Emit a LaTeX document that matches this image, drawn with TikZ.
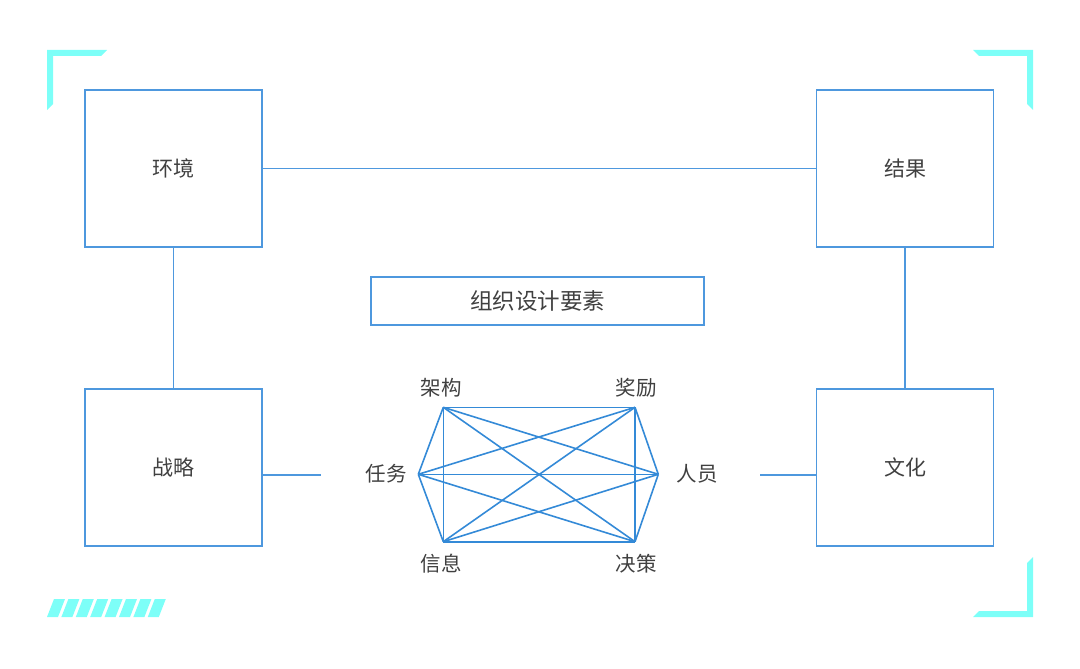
\documentclass[tikz,border=0pt]{standalone}
\usepackage{fontspec}
\setmainfont{Noto Sans CJK SC}
\definecolor{lineblue}{RGB}{78,152,222}
\definecolor{hexblue}{RGB}{52,138,215}
\definecolor{cyanb}{RGB}{125,255,248}
\definecolor{txt}{RGB}{64,64,64}
\tikzset{
  bigbox/.style={draw=lineblue, line width=1.8pt, minimum width=177pt, minimum height=157pt, inner sep=0pt, text=txt, font=\fontsize{21}{24}\selectfont},
  titlebox/.style={draw=lineblue, line width=1.8pt, minimum width=333pt, minimum height=48pt, inner sep=0pt, text=txt, font=\fontsize{22.5}{26}\selectfont},
  conn/.style={draw=lineblue, line width=1.8pt},
  hexline/.style={draw=hexblue, line width=1.6pt},
  lbl/.style={text=txt, font=\fontsize{20.5}{24}\selectfont, inner sep=0pt},
  deco/.style={fill=cyanb, draw=none}
}
\begin{document}
\begin{tikzpicture}[x=1pt,y=-1pt]
\useasboundingbox (0,0) rectangle (1080,669);
% corner decorations
\fill[deco] (47,50) -- (107,50) -- (101,56) -- (53,56) -- (53,104) -- (47,110) -- cycle;
\fill[deco] (973,50) -- (1033,50) -- (1033,110) -- (1027,104) -- (1027,56) -- (979,56) -- cycle;
\fill[deco] (1033,557) -- (1033,617) -- (973,617) -- (979,611) -- (1027,611) -- (1027,563) -- cycle;
\foreach \i in {0,...,7}{
  \fill[deco] ({47+14.4*\i},617) -- ({58+14.4*\i},617) -- ({65+14.4*\i},599) -- ({54+14.4*\i},599) -- cycle;
}
% boxes
\node[bigbox] (hj) at (173.5,168.5) {环境};
\node[bigbox] (jg) at (905,168.5) {结果};
\node[bigbox] (zl) at (173.5,467.5) {战略};
\node[bigbox] (wh) at (905,467.5) {文化};
\node[titlebox] (title) at (537.5,301) {组织设计要素};
% connectors
\draw[conn] (hj) -- (jg);
\draw[conn] (hj) -- (zl);
\draw[conn] (jg) -- (wh);
\coordinate (zlEnd) at (321,475);
\coordinate (whEnd) at (760,475);
\draw[conn] (zl.east |- zlEnd) -- (zlEnd);
\draw[conn] (whEnd) -- (wh.west |- whEnd);
% hexagon vertices
\coordinate (v1) at (443.3,407.3);
\coordinate (v2) at (635,407.3);
\coordinate (v3) at (658.3,474.3);
\coordinate (v4) at (635,541.7);
\coordinate (v5) at (443.3,541.7);
\coordinate (v6) at (418.3,474.3);
\foreach \a/\b in {v1/v2,v1/v3,v1/v4,v1/v5,v1/v6,v2/v3,v2/v4,v2/v5,v2/v6,v3/v4,v3/v5,v3/v6,v4/v5,v4/v6,v5/v6}{
  \draw[hexline] (\a) -- (\b);
}
% labels
\node[lbl] (l1) at (441,388) {架构};
\node[lbl] (l2) at (636,388) {奖励};
\node[lbl] (l3) at (697,474) {人员};
\node[lbl] (l4) at (636,564) {决策};
\node[lbl] (l5) at (441,564) {信息};
\node[lbl] (l6) at (386,474) {任务};
\end{tikzpicture}
\end{document}
